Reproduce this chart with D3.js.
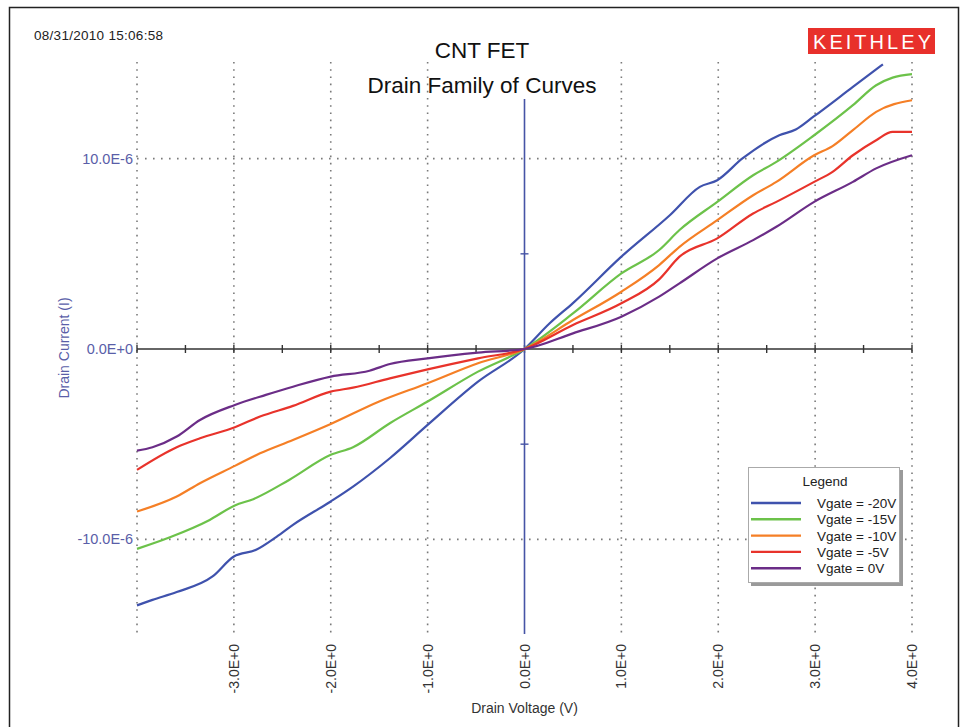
<!DOCTYPE html>
<html>
<head>
<meta charset="utf-8">
<script src="https://cdn.jsdelivr.net/npm/d3@7"></script>
<style>
  html, body { margin: 0; padding: 0; background: #fff; }
  svg { display: block; font-family: "Liberation Sans", Arial, sans-serif; }
</style>
</head>
<body>
<svg id="chart" width="966" height="727"></svg>
<script>
// ---------- data (Drain voltage V, drain current µA) ----------
const seriesNames = ["Vgate = -20V", "Vgate = -15V", "Vgate = -10V", "Vgate = -5V", "Vgate = 0V"];
const seriesColors = ["#3f52ad", "#6cc24a", "#f57f26", "#e8332b", "#6b2d87"];

const vgateM20 = [[-4,-13.47],[-3.84,-13.18],[-3.59,-12.77],[-3.22,-11.95],[-3.0,-10.9],[-2.77,-10.55],[-2.56,-9.87],[-2.39,-9.24],[-2.0,-8.01],[-1.77,-7.23],[-1.39,-5.74],[-1.0,-3.99],[-0.48,-1.72],[0,0],[0.26,1.35],[0.5,2.41],[1.0,4.85],[1.5,7.03],[1.81,8.52],[1.99,8.87],[2.25,10.01],[2.63,11.23],[2.8,11.53],[2.99,12.23],[3.39,13.77],[3.7,14.96]];
const vgateM15 = [[-4,-10.5],[-3.66,-9.89],[-3.25,-8.98],[-2.99,-8.22],[-2.8,-7.89],[-2.43,-6.88],[-2.0,-5.56],[-1.77,-5.16],[-1.39,-3.9],[-1.0,-2.76],[-0.48,-1.19],[0,0],[0.5,1.87],[1.0,3.97],[1.39,5.2],[1.6,6.25],[1.99,7.73],[2.36,9.13],[2.6,9.83],[2.99,11.23],[3.39,12.81],[3.63,13.86],[3.8,14.26],[4.0,14.44]];
const vgateM10 = [[-4,-8.54],[-3.59,-7.75],[-3.35,-7.05],[-2.99,-6.14],[-2.73,-5.48],[-2.39,-4.78],[-2.0,-3.94],[-1.5,-2.76],[-1.0,-1.8],[-0.48,-0.75],[0,0],[0.5,1.52],[1.0,3.01],[1.39,4.41],[1.6,5.37],[1.99,6.77],[2.36,8.08],[2.6,8.78],[2.99,10.18],[3.18,10.66],[3.39,11.5],[3.63,12.46],[4.0,13.07]];
const vgateM5 = [[-4,-6.35],[-3.59,-5.16],[-3.35,-4.69],[-2.99,-4.11],[-2.73,-3.55],[-2.39,-2.99],[-2.0,-2.24],[-1.77,-2.03],[-1.39,-1.54],[-1.0,-1.07],[-0.48,-0.49],[0,0],[0.5,1.26],[1.0,2.4],[1.39,3.66],[1.6,4.85],[1.99,5.81],[2.36,7.12],[2.6,7.73],[2.99,8.78],[3.18,9.31],[3.39,10.18],[3.63,10.97],[3.8,11.41],[4.0,11.41]];
const vgate0 = [[-4,-5.34],[-3.84,-5.16],[-3.59,-4.6],[-3.35,-3.73],[-2.99,-2.94],[-2.67,-2.41],[-2.39,-1.98],[-2.0,-1.45],[-1.6,-1.14],[-1.39,-0.79],[-1.0,-0.49],[-0.48,-0.19],[0,0],[0.5,0.82],[1.0,1.7],[1.39,2.75],[1.6,3.45],[1.99,4.76],[2.36,5.72],[2.6,6.42],[2.99,7.73],[3.39,8.78],[3.63,9.49],[4.0,10.18]];
const allSeries = [vgateM20, vgateM15, vgateM10, vgateM5, vgate0];

const xTickValues = [-3, -2, -1, 0, 1, 2, 3, 4];
const xTickLabels = ["-3.0E+0", "-2.0E+0", "-1.0E+0", "0.0E+0", "1.0E+0", "2.0E+0", "3.0E+0", "4.0E+0"];
const yTickValues = [10, 0, -10];
const yTickLabels = ["10.0E-6", "0.0E+0", "-10.0E-6"];

const titleLines = ["CNT FET", "Drain Family of Curves"];
const timestamp = "08/31/2010 15:06:58";

// ---------- layout ----------
const svg = d3.select("#chart");
const x = d3.scaleLinear().domain([-4, 4]).range([137, 912]);
const y = d3.scaleLinear().domain([-15, 15]).range([634.5, 63.5]);

svg.append("rect").attr("width", 966).attr("height", 727).attr("fill", "#fff");
svg.append("rect").attr("x", 9.5).attr("y", 7.5).attr("width", 949).attr("height", 730)
  .attr("fill", "none").attr("stroke", "#222").attr("stroke-width", 1.5);

const gridColor = "#7a7a7a";
const gridXs = [-4, -3, -2, -1, 1, 2, 3, 4];
svg.append("g").selectAll("line").data(gridXs).join("line")
  .attr("x1", d => x(d)).attr("x2", d => x(d))
  .attr("y1", 62).attr("y2", 634)
  .attr("stroke", gridColor).attr("stroke-width", 1.6)
  .attr("stroke-dasharray", "1.6,5.6");
svg.append("g").selectAll("line").data([10, -10]).join("line")
  .attr("x1", x(-4)).attr("x2", x(4))
  .attr("y1", d => y(d)).attr("y2", d => y(d))
  .attr("stroke", gridColor).attr("stroke-width", 1.6)
  .attr("stroke-dasharray", "1.6,6.4");

svg.append("line").attr("x1", x(-4)).attr("x2", x(4)).attr("y1", y(0)).attr("y2", y(0))
  .attr("stroke", "#333").attr("stroke-width", 1.6);
svg.append("g").selectAll("line").data(d3.range(-4, 4.01, 0.5)).join("line")
  .attr("x1", d => x(d)).attr("x2", d => x(d))
  .attr("y1", y(0) - 4).attr("y2", y(0) + 4)
  .attr("stroke", "#333").attr("stroke-width", 1.4);

const axisBlue = "#4654a6";
svg.append("line").attr("x1", x(0)).attr("x2", x(0)).attr("y1", 99).attr("y2", 634)
  .attr("stroke", axisBlue).attr("stroke-width", 1.6);
svg.append("g").selectAll("line").data([5, -5]).join("line")
  .attr("x1", x(0) - 4).attr("x2", x(0) + 4)
  .attr("y1", d => y(d)).attr("y2", d => y(d))
  .attr("stroke", axisBlue).attr("stroke-width", 1.4);

const line = d3.line().x(d => x(d[0])).y(d => y(d[1])).curve(d3.curveMonotoneX);
svg.append("g").selectAll("path").data(allSeries).join("path")
  .attr("d", line)
  .attr("fill", "none")
  .attr("stroke", (d, i) => seriesColors[i])
  .attr("stroke-width", 2.2)
  .attr("stroke-linejoin", "round");

const labelBlue = "#5a5ea8";
svg.append("g").selectAll("text").data(yTickValues).join("text")
  .attr("x", 133).attr("y", d => y(d) + 5)
  .attr("text-anchor", "end").attr("font-size", 14.5).attr("fill", labelBlue)
  .text((d, i) => yTickLabels[i]);

svg.append("g").selectAll("text").data(xTickValues).join("text")
  .attr("transform", d => `translate(${x(d) + 5},644) rotate(-90)`)
  .attr("text-anchor", "end").attr("font-size", 14).attr("fill", "#333")
  .text((d, i) => xTickLabels[i]);

svg.append("text").attr("transform", `translate(69,348) rotate(-90)`)
  .attr("text-anchor", "middle").attr("font-size", 14).attr("fill", labelBlue)
  .text("Drain Current (I)");
svg.append("text").attr("x", x(0)).attr("y", 713)
  .attr("text-anchor", "middle").attr("font-size", 14).attr("fill", "#333")
  .text("Drain Voltage (V)");

svg.append("g").selectAll("text").data(titleLines).join("text")
  .attr("x", 482).attr("y", (d, i) => 58 + i * 35)
  .attr("text-anchor", "middle").attr("font-size", 22.5).attr("fill", "#111")
  .text(d => d);

svg.append("text").attr("x", 34).attr("y", 40).attr("font-size", 13.5).attr("fill", "#222")
  .attr("textLength", 129).text(timestamp);

svg.append("rect").attr("x", 808).attr("y", 28).attr("width", 127).attr("height", 26).attr("fill", "#e8302b");
svg.append("text").attr("x", 813).attr("y", 49).attr("font-size", 20).attr("fill", "#fff")
  .attr("textLength", 118).attr("lengthAdjust", "spacing").text("KEITHLEY");

const lg = svg.append("g");
lg.append("rect").attr("x", 751).attr("y", 470).attr("width", 152).attr("height", 116).attr("fill", "#9a9a9a");
lg.append("rect").attr("x", 748.5).attr("y", 467.5).attr("width", 151).attr("height", 115)
  .attr("fill", "#fff").attr("stroke", "#aaa").attr("stroke-width", 1);
lg.append("text").attr("x", 825).attr("y", 486).attr("text-anchor", "middle")
  .attr("font-size", 13.5).attr("fill", "#222").text("Legend");
const rows = lg.selectAll("g.row").data(seriesNames).join("g")
  .attr("transform", (d, i) => `translate(0,${503 + i * 16.3})`);
rows.append("line").attr("x1", 751).attr("x2", 801).attr("y1", 0).attr("y2", 0)
  .attr("stroke", (d, i) => seriesColors[i]).attr("stroke-width", 2.4);
rows.append("text").attr("x", 817).attr("y", 5).attr("font-size", 13.5).attr("fill", "#222").text(d => d);
</script>
</body>
</html>
